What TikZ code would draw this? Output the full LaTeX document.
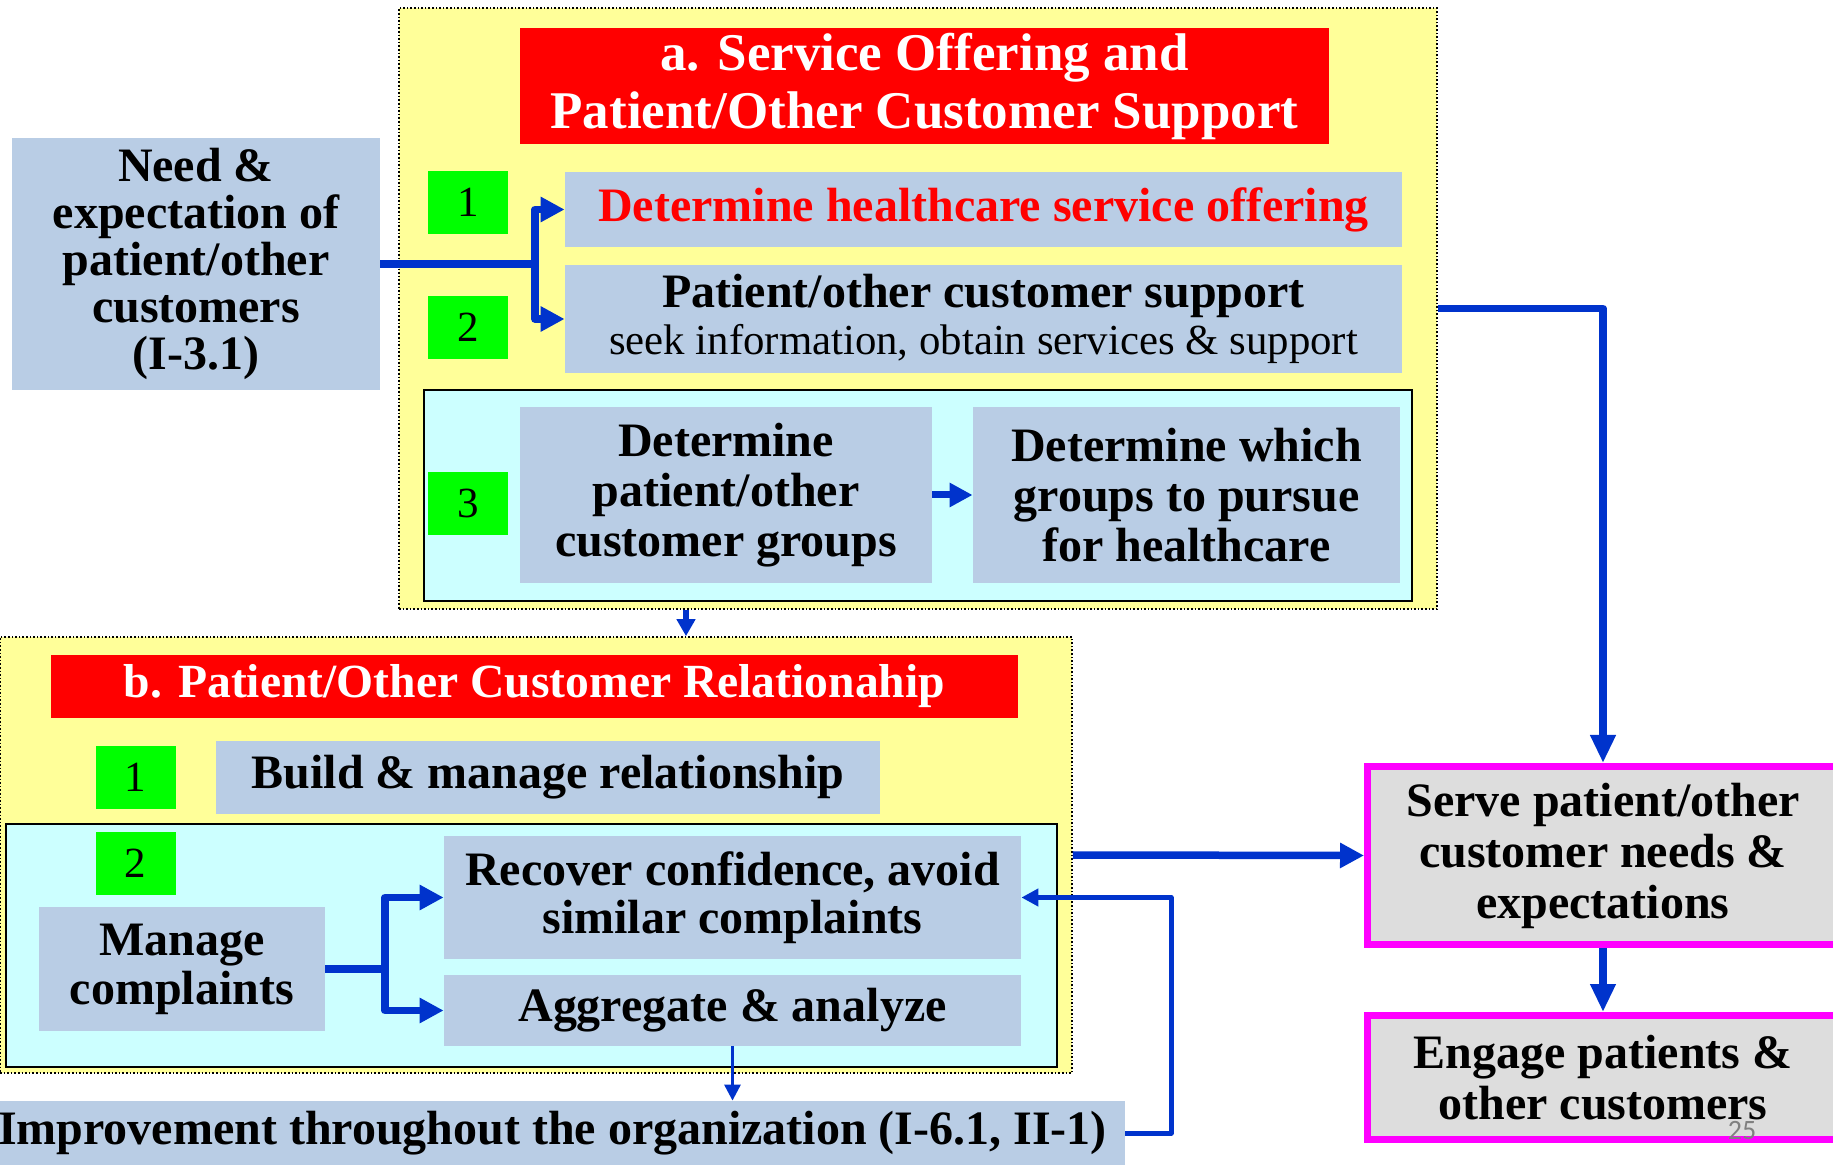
\documentclass[tikz,border=0pt]{standalone}
\usepackage{fontspec}
\setmainfont{Liberation Serif}
\newfontfamily\pagefont{Carlito}
\usetikzlibrary{arrows.meta}
\definecolor{boxblue}{RGB}{185,205,229}
\definecolor{paleyellow}{RGB}{255,255,153}
\definecolor{palecyan}{RGB}{204,255,255}
\definecolor{linkblue}{RGB}{0,51,204}
\definecolor{resultgray}{RGB}{221,221,221}
\definecolor{resultpink}{RGB}{255,0,255}
\definecolor{numgreen}{RGB}{0,255,0}
\definecolor{headred}{RGB}{255,0,0}

\begin{document}
\begin{tikzpicture}[x=0.5pt,y=-0.5pt,
  panel/.style={fill=paleyellow,draw=black,densely dotted,line width=0.8pt,inner sep=0pt},
  inner/.style={fill=palecyan,draw=black,line width=1pt,inner sep=0pt},
  heading/.style={fill=headred,text=white,inner sep=0pt,align=center,font=\bfseries\fontsize{26.5}{29}\selectfont},
  item/.style={fill=boxblue,inner sep=0pt,align=center,font=\bfseries\fontsize{24}{23.5}\selectfont},
  num/.style={fill=numgreen,inner sep=0pt,minimum width=40pt,minimum height=31.5pt,font=\fontsize{21.5}{22}\selectfont},
  result/.style={fill=resultgray,draw=resultpink,line width=3.5pt,inner sep=0pt,minimum width=235.5pt,align=center,font=\bfseries\fontsize{24}{25.5}\selectfont},
  link/.style={draw=linkblue,line width=3.75pt,line join=round,-{Triangle[length=12pt,width=12pt]}},
  fork/.style={draw=linkblue,line width=3.75pt,line join=round},
  back/.style={draw=linkblue,line width=2.5pt,line join=round,-{Triangle[length=8.5pt,width=8.5pt]}},
  small/.style={draw=linkblue,line width=1.5pt,-{Triangle[length=8pt,width=8pt]}},
]
\useasboundingbox (0,0) rectangle (1833,1165);

% a. service offering
\node[panel,minimum width=519pt,minimum height=300.5pt] (yellowA) at (918,308.5) {};
\node[heading,minimum width=404.5pt,minimum height=58pt] (titleA) at (924.5,86) {a. Service Offering and\\Patient/Other Customer Support};
\node[item,minimum width=184pt,minimum height=126pt] (need) at (196,264) {Need \&\\expectation of\\patient/other\\customers\\(I-3.1)};
\node[num] (a1) at (468,202.5) {1};
\node[num] (a2) at (468,327.5) {2};
\node[item,text=headred,minimum width=418.5pt,minimum height=37.5pt] (offer) at (983.5,209.5) {Determine healthcare service offering};
\node[item,minimum width=418.5pt,minimum height=54pt] (support) at (983.5,319) {Patient/other customer support\\{\mdseries\fontsize{21.4}{23.5}\selectfont seek information, obtain services \& support}};
\node[inner,minimum width=494pt,minimum height=105.5pt] (cyanA) at (918,495.5) {};
\node[num] (a3) at (468,503.5) {3};
\node[item,font=\bfseries\fontsize{24}{25}\selectfont,minimum width=206pt,minimum height=88pt] (groups) at (726,495) {Determine\\patient/other\\customer groups};
\node[item,font=\bfseries\fontsize{24}{25}\selectfont,minimum width=213.5pt,minimum height=88pt] (which) at (1186.5,495) {Determine which\\groups to pursue\\for healthcare};

% b. relationship
\node[panel,minimum width=536pt,minimum height=218pt] (yellowB) at (536,855) {};
\node[heading,font=\bfseries\fontsize{23.8}{26}\selectfont,minimum width=483.5pt,minimum height=31.5pt] (titleB) at (534.5,686.5) {b. Patient/Other Customer Relationahip};
\node[num] (b1) at (135.5,777.5) {1};
\node[item,minimum width=332pt,minimum height=36.5pt] (build) at (548,777.5) {Build \& manage relationship};
\node[inner,minimum width=525.5pt,minimum height=121.5pt] (cyanB) at (531.5,945.5) {};
\node[num] (b2) at (135.5,863.5) {2};
\node[item,font=\bfseries\fontsize{24}{24.5}\selectfont,minimum width=143pt,minimum height=62pt] (manage) at (182,969) {Manage\\complaints};
\node[item,font=\bfseries\fontsize{24}{24}\selectfont,minimum width=288.5pt,minimum height=61.5pt] (recover) at (732.5,897.5) {Recover confidence, avoid\\similar complaints};
\node[item,minimum width=288.5pt,minimum height=35.5pt] (aggregate) at (732.5,1010.5) {Aggregate \& analyze};
\node[item,minimum width=572.5pt,minimum height=32pt] (improve) at (552.5,1133) {Improvement throughout the organization (I-6.1, II-1)};

% results
\node[result,minimum height=89pt] (serve) at (1603,855.5) {Serve patient/other\\customer needs \&\\expectations};
\node[result,minimum height=62pt] (engage) at (1603,1077.5) {Engage patients \&\\other customers};
\node[text=gray,font=\pagefont\fontsize{14}{16}\selectfont] (page) at (1742,1131) {25};

% connectors
\coordinate (forkA) at (535,264);
\coordinate (forkB) at (385,969);
\coordinate (drop) at (686,0);
\coordinate (loop) at (1171,0);
\draw[fork] (need.east) -- (forkA);
\draw[link] (forkA) |- (offer.west);
\draw[link] (forkA) |- (support.west);
\draw[link,-{Triangle[length=14pt,width=12pt]}] (yellowA.east) -| (serve.north);
\draw[link,line width=3.5pt,-{Triangle[length=11.5pt,width=11.5pt]}] (groups) -- (which);
\draw[small,line width=3pt,-{Triangle[length=8.5pt,width=9pt]}] (yellowA.south -| drop) -- (yellowB.north -| drop);
\draw[link] (yellowB.east) -- (serve.west);
\draw[link,-{Triangle[length=14pt,width=12pt]}] (serve.south) -- (engage.north);
\draw[fork] (manage.east) -- (forkB);
\draw[link] (forkB) |- (recover.west);
\draw[link] (forkB) |- (aggregate.west);
\draw[small] (aggregate.south) -- (aggregate.south |- improve.north);
\draw[back] (improve.east) -- (improve.east -| loop) |- (recover.east);
\end{tikzpicture}
\end{document}
